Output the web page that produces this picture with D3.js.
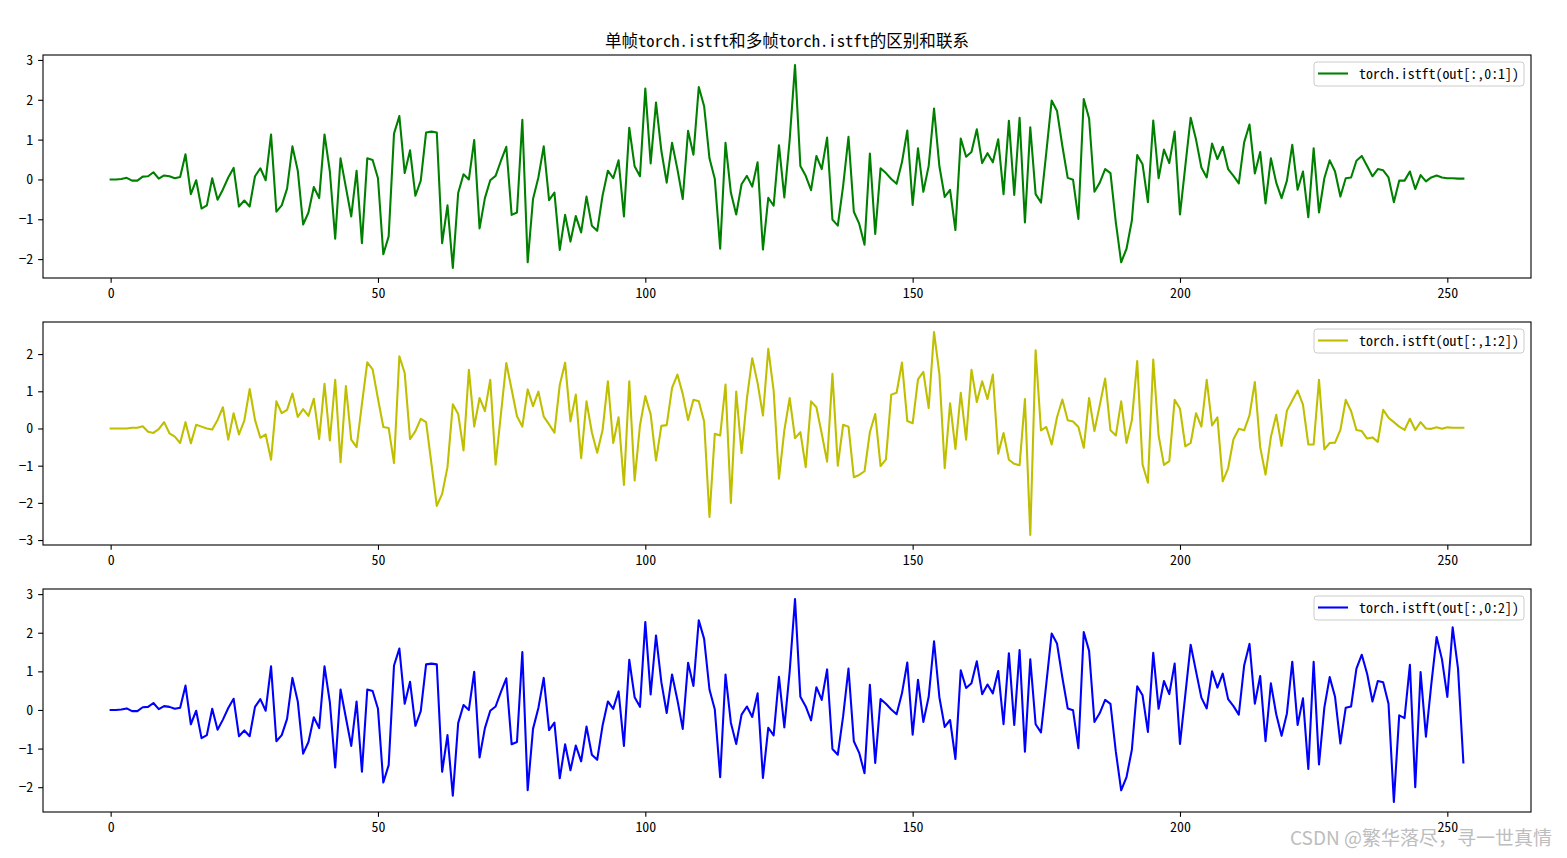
<!DOCTYPE html>
<html><head><meta charset="utf-8">
<script src="https://cdn.jsdelivr.net/npm/d3@7"></script>
<style>body{margin:0;background:#fff} svg{display:block}</style>
</head><body>
<svg id="c" width="1567" height="858"></svg>
<script>
const greenValues = [0.0,0.0,0.01,0.04,-0.03,-0.03,0.07,0.08,0.18,0.02,
0.1,0.08,0.03,0.06,0.63,-0.37,-0.02,-0.73,-0.65,0.03,
-0.51,-0.25,0.05,0.29,-0.68,-0.53,-0.68,0.08,0.28,-0.02,
1.13,-0.81,-0.65,-0.23,0.83,0.22,-1.13,-0.83,-0.19,-0.47,
1.13,0.2,-1.49,0.53,-0.2,-0.93,0.22,-1.6,0.53,0.49,
0.03,-1.88,-1.43,1.15,1.59,0.16,0.73,-0.41,-0.03,1.18,
1.2,1.18,-1.6,-0.65,-2.22,-0.34,0.13,0.0,0.99,-1.23,
-0.47,-0.02,0.09,0.47,0.82,-0.89,-0.83,1.5,-2.08,-0.49,
0.05,0.83,-0.52,-0.33,-1.77,-0.89,-1.56,-0.92,-1.33,-0.43,
-1.16,-1.29,-0.41,0.22,0.03,0.48,-0.93,1.3,0.33,0.08,
2.28,0.4,1.93,0.72,-0.08,0.92,0.26,-0.49,1.22,0.62,
2.32,1.84,0.53,0.01,-1.74,0.92,-0.33,-0.88,-0.12,0.09,
-0.18,0.43,-1.76,-0.46,-0.66,0.86,-0.45,1.0,2.87,0.34,
0.09,-0.27,0.59,0.26,1.05,-1.01,-1.16,-0.16,1.07,-0.81,
-1.11,-1.64,0.65,-1.37,0.28,0.16,0.01,-0.11,0.43,1.23,
-0.64,0.78,-0.31,0.34,1.78,0.33,-0.44,-0.26,-1.27,1.03,
0.57,0.69,1.26,0.41,0.66,0.43,1.01,-0.37,1.47,-0.39,
1.55,-1.08,1.31,-0.37,-0.58,0.68,1.98,1.72,0.84,0.04,
-0.01,-0.99,2.02,1.53,-0.31,-0.08,0.26,0.16,-1.08,-2.08,
-1.74,-1.03,0.61,0.38,-0.57,1.48,0.03,0.75,0.41,1.2,
-0.88,0.34,1.55,1.0,0.3,0.05,0.9,0.51,0.82,0.26,
0.09,-0.1,0.93,1.38,0.15,0.69,-0.6,0.53,-0.08,-0.47,
-0.03,0.87,-0.26,0.2,-0.95,0.78,-0.83,0.03,0.48,0.2,
-0.43,0.03,0.05,0.47,0.59,0.34,0.08,0.26,0.23,0.05,
-0.57,-0.03,-0.03,0.2,-0.24,0.11,-0.05,0.05,0.1,0.05,
0.03,0.03,0.02,0.02];

const yellowValues = [0,0,0,0,0.02,0.02,0.06,-0.09,-0.12,-0.02,
0.17,-0.13,-0.22,-0.39,0.17,-0.4,0.1,0.05,0,-0.03,
0.23,0.57,-0.3,0.41,-0.16,0.21,1.06,0.23,-0.25,-0.16,
-0.84,0.73,0.41,0.5,0.94,0.31,0.52,0.34,0.8,-0.28,
1.2,-0.32,1.31,-0.91,1.14,-0.3,-0.5,0.66,1.78,1.59,
0.8,0.04,0.01,-0.93,1.94,1.49,-0.29,-0.07,0.26,0.17,
-0.95,-2.08,-1.76,-1.04,0.65,0.39,-0.59,1.58,0.05,0.82,
0.47,1.31,-0.97,0.39,1.76,1.05,0.33,0.05,1.05,0.6,
0.99,0.32,0.11,-0.11,1.17,1.77,0.19,0.91,-0.8,0.73,
-0.1,-0.65,-0.05,1.27,-0.39,0.3,-1.52,1.27,-1.4,0.08,
0.87,0.38,-0.86,0.07,0.09,1.09,1.45,0.93,0.23,0.77,
0.73,0.19,-2.38,-0.14,-0.19,1.18,-2.0,0.99,-0.66,0.8,
1.89,1.22,0.35,2.14,1.02,-1.35,-0.05,0.82,-0.26,-0.1,
-1.04,0.73,0.57,-0.14,-0.89,1.47,-1.0,0.1,0.05,-1.31,
-1.25,-1.15,-0.1,0.39,-1.01,-0.83,0.91,0.96,1.77,0.2,
0.14,1.32,1.52,0.55,2.59,1.47,-1.07,0.68,-0.55,0.96,
-0.3,1.58,0.71,1.27,0.79,1.45,-0.68,-0.12,-0.84,-0.95,
-0.99,0.79,-2.86,2.1,-0.05,0.04,-0.43,0.3,0.78,0.22,
0.19,0.04,-0.52,0.82,-0.07,0.63,1.34,-0.05,-0.19,0.73,
-0.39,0.22,1.81,-0.97,-1.46,1.85,-0.19,-0.98,-0.88,0.77,
0.53,-0.48,-0.39,0.41,0.05,1.31,0.08,0.3,-1.42,-1.07,
-0.29,-0.01,-0.05,0.35,1.25,-0.5,-1.24,-0.23,0.37,-0.47,
0.48,0.75,1.02,0.64,-0.43,-0.43,1.31,-0.56,-0.39,-0.38,
-0.04,0.77,0.47,-0.04,-0.07,-0.27,-0.24,-0.36,0.5,0.29,
0.17,0.05,-0.04,0.26,-0.04,0.17,0,-0.01,0.03,-0.01,
0.03,0.02,0.02,0.02];

const blueValues = [0.0,0.0,0.01,0.04,-0.03,-0.03,0.07,0.08,0.18,0.02,
0.1,0.08,0.03,0.06,0.63,-0.37,-0.02,-0.73,-0.65,0.03,
-0.51,-0.25,0.05,0.29,-0.68,-0.53,-0.68,0.08,0.28,-0.02,
1.13,-0.81,-0.65,-0.23,0.83,0.22,-1.13,-0.83,-0.19,-0.47,
1.13,0.2,-1.49,0.53,-0.2,-0.93,0.22,-1.6,0.53,0.49,
0.03,-1.88,-1.43,1.15,1.59,0.16,0.73,-0.41,-0.03,1.18,
1.2,1.18,-1.6,-0.65,-2.22,-0.34,0.13,0.0,0.99,-1.23,
-0.47,-0.02,0.09,0.47,0.82,-0.89,-0.83,1.5,-2.08,-0.49,
0.05,0.83,-0.52,-0.33,-1.77,-0.89,-1.56,-0.92,-1.33,-0.43,
-1.16,-1.29,-0.41,0.22,0.03,0.48,-0.93,1.3,0.33,0.08,
2.28,0.4,1.93,0.72,-0.08,0.92,0.26,-0.49,1.22,0.62,
2.32,1.84,0.53,0.01,-1.74,0.92,-0.33,-0.88,-0.12,0.09,
-0.18,0.43,-1.76,-0.46,-0.66,0.86,-0.45,1.0,2.87,0.34,
0.09,-0.27,0.59,0.26,1.05,-1.01,-1.16,-0.16,1.07,-0.81,
-1.11,-1.64,0.65,-1.37,0.28,0.16,0.01,-0.11,0.43,1.23,
-0.64,0.78,-0.31,0.34,1.78,0.33,-0.44,-0.26,-1.27,1.03,
0.57,0.69,1.26,0.41,0.66,0.43,1.01,-0.37,1.47,-0.39,
1.55,-1.08,1.31,-0.37,-0.58,0.68,1.98,1.72,0.84,0.04,
-0.01,-0.99,2.02,1.53,-0.31,-0.08,0.26,0.16,-1.08,-2.08,
-1.74,-1.03,0.61,0.38,-0.57,1.48,0.03,0.75,0.41,1.2,
-0.88,0.4,1.69,1.0,0.32,0.04,1.0,0.58,0.94,0.28,
0.1,-0.12,1.15,1.71,0.16,0.88,-0.81,0.69,-0.11,-0.67,
-0.09,1.25,-0.39,0.3,-1.53,1.25,-1.41,0.06,0.85,0.34,
-0.87,0.06,0.09,1.07,1.43,0.94,0.22,0.75,0.72,0.16,
-2.38,-0.14,-0.21,1.17,-2.0,0.98,-0.69,0.66,1.89,1.31,
0.34,2.14,1.07,-1.36];

const xTickValues = [0, 50, 100, 150, 200, 250];
const yTickSets = [[-2,-1,0,1,2,3], [-3,-2,-1,0,1,2], [-2,-1,0,1,2,3]];
const titleText = "单帧torch.istft和多帧torch.istft的区别和联系";
const legendLabels = ["torch.istft(out[:,0:1])", "torch.istft(out[:,1:2])", "torch.istft(out[:,0:2])"];
const seriesColors = ["#008000", "#bfbf00", "#0000ff"];
const watermarkText = "CSDN @繁华落尽，寻一世真情";

const series = [greenValues, yellowValues, blueValues];
const svg = d3.select("#c");
const FONT = "'Noto Sans Mono CJK SC','Noto Sans CJK SC','Noto Sans',sans-serif";
const left = 43, right = 1531, panelH = 223;
const tops = [55, 322, 589];
const tick = 4.86;

svg.append("text")
  .attr("x", (left + right) / 2).attr("y", 47)
  .attr("text-anchor", "middle")
  .attr("font-family", FONT).attr("font-size", 16.7)
  .attr("textLength", 364).attr("lengthAdjust", "spacingAndGlyphs")
  .attr("fill", "#000")
  .text(titleText);

series.forEach((vals, k) => {
  const top = tops[k];
  const n = vals.length;
  const xpad = (n - 1) * 0.05;
  const x = d3.scaleLinear().domain([-xpad, n - 1 + xpad]).range([left, right]);
  const [mn, mx] = d3.extent(vals);
  const ypad = (mx - mn) * 0.05;
  const y = d3.scaleLinear().domain([mn - ypad, mx + ypad]).range([top + panelH, top]);

  const g = svg.append("g");
  const clipId = "clip" + k;
  svg.append("clipPath").attr("id", clipId)
    .append("rect").attr("x", left).attr("y", top).attr("width", right - left).attr("height", panelH);

  g.append("path")
    .datum(vals)
    .attr("clip-path", `url(#${clipId})`)
    .attr("fill", "none")
    .attr("stroke", seriesColors[k])
    .attr("stroke-width", 2.08)
    .attr("stroke-linejoin", "round")
    .attr("stroke-linecap", "square")
    .attr("d", d3.line().x((d, i) => x(i)).y(d => y(d)));

  const fmt = d3.format("d");
  const xa = g.append("g").attr("transform", `translate(0,${top + panelH})`)
    .call(d3.axisBottom(x).tickValues(xTickValues).tickSize(tick).tickPadding(4.86).tickSizeOuter(0).tickFormat(fmt));
  const ya = g.append("g").attr("transform", `translate(${left},0)`)
    .call(d3.axisLeft(y).tickValues(yTickSets[k]).tickSize(tick).tickPadding(4.86).tickSizeOuter(0).tickFormat(fmt));
  [xa, ya].forEach(a => {
    a.select(".domain").remove();
    a.selectAll(".tick line").attr("stroke", "#000").attr("stroke-width", 1.1);
    a.selectAll(".tick text").attr("font-family", FONT).attr("font-size", 13.9).attr("fill", "#000");
  });

  g.append("rect").attr("x", left).attr("y", top).attr("width", right - left).attr("height", panelH)
    .attr("fill", "none").attr("stroke", "#000").attr("stroke-width", 1.1);

  // legend
  const bx = right - 7 - 210, by = top + 7;
  const lg = g.append("g");
  lg.append("rect").attr("x", bx).attr("y", by).attr("width", 210).attr("height", 24)
    .attr("rx", 3).attr("ry", 3)
    .attr("fill", "#fff").attr("fill-opacity", 0.8)
    .attr("stroke", "#cccccc").attr("stroke-width", 1);
  lg.append("line").attr("x1", bx + 4).attr("x2", bx + 34).attr("y1", by + 11.5).attr("y2", by + 11.5)
    .attr("stroke", seriesColors[k]).attr("stroke-width", 2.08);
  lg.append("text").attr("x", bx + 45).attr("y", by + 16.5)
    .attr("font-family", FONT).attr("font-size", 13.9)
    .attr("textLength", 160).attr("lengthAdjust", "spacingAndGlyphs")
    .attr("fill", "#000")
    .text(legendLabels[k]);
});

svg.append("text")
  .attr("x", 1552).attr("y", 845)
  .attr("text-anchor", "end")
  .attr("font-family", "'Noto Sans CJK SC',sans-serif").attr("font-size", 19)
  .attr("fill", "#bdbdbd")
  .attr("stroke", "#ffffff").attr("stroke-width", 0.5).attr("paint-order", "stroke")
  .text(watermarkText);
</script>
</body></html>
